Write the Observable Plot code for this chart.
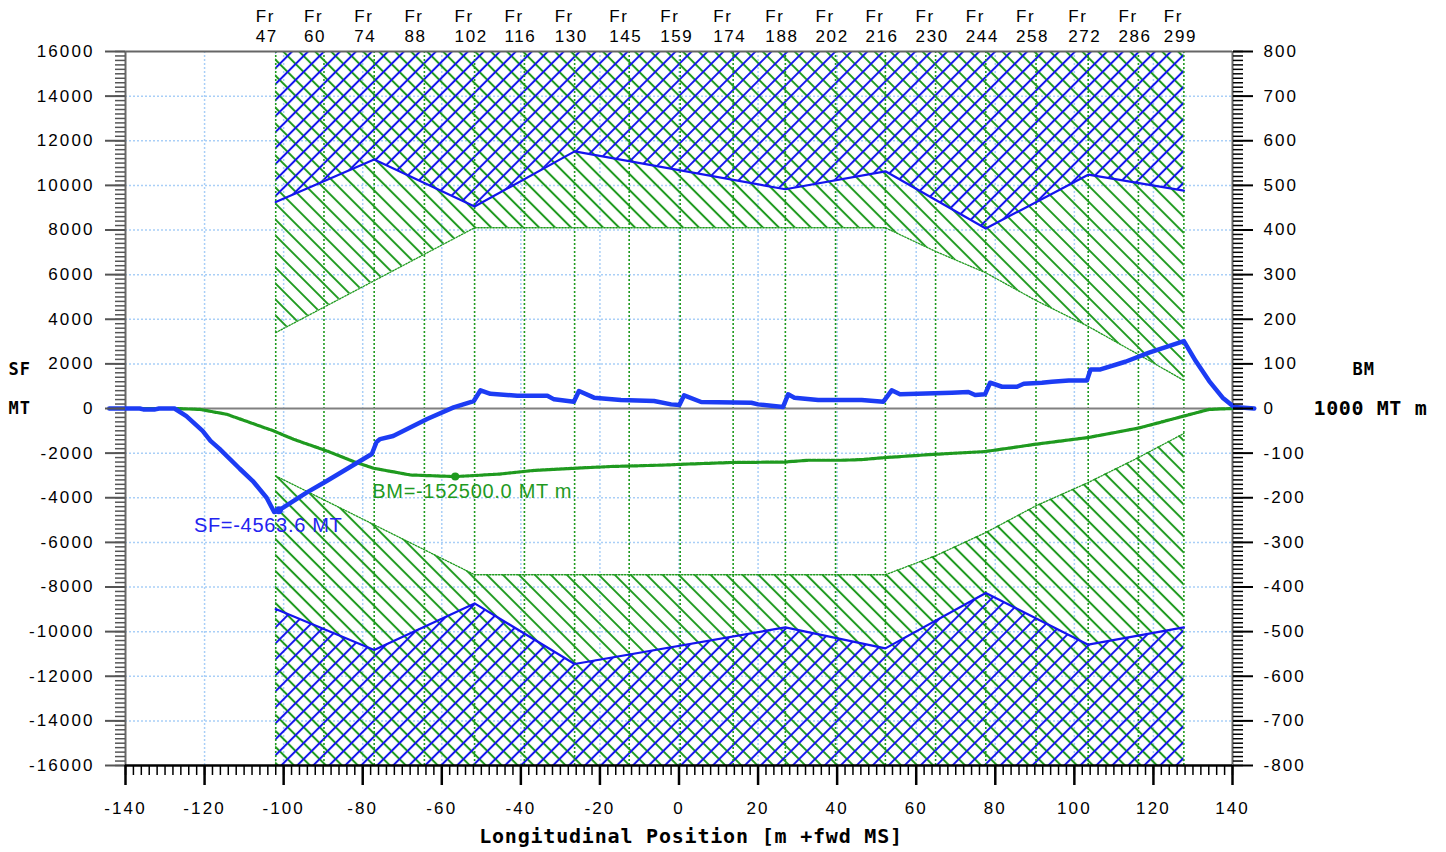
<!DOCTYPE html>
<html><head><meta charset="utf-8">
<script src="https://cdn.jsdelivr.net/npm/d3@7"></script>
<script src="https://cdn.jsdelivr.net/npm/@observablehq/plot@0.6"></script>
<style>
html,body{margin:0;padding:0;background:#fff;}
svg{display:block}
</style></head><body><div id="chart"></div>
<script>
// ---- data ----
const frames = [47, 60, 74, 88, 102, 116, 130, 145, 159, 174, 188, 202, 216, 230, 244, 258, 272, 286, 299];
const framePos = [-102.0, -89.8, -77.1, -64.4, -51.7, -39.1, -26.4, -12.6, 0.3, 13.7, 26.9, 39.6, 52.2, 64.9, 77.6, 90.3, 103.5, 116.2, 127.7];

// shear force limits (MT)
const sfLimX = [-102.0, -77.1, -51.7, -26.4, 26.9, 52.2, 77.6, 103.5, 127.7];
const sfMax  = [9255, 11155, 9050, 11525, 9825, 10630, 8065, 10480, 9765];
const sfMin  = [-8990, -10825, -8735, -11450, -9810, -10750, -8270, -10585, -9810];

// bending moment limits (1000 MT m)
const bmLimX = [-102.0, -51.7, 52.2, 64.9, 77.6, 90.3, 103.5, 116.2, 127.7];
const bmMax  = [170, 405, 405, 352, 304, 242, 184, 121, 63];
const bmMin  = [-151, -372.5, -372.5, -330, -278, -218, -166, -110, -56];

// shear force curve (m, MT)
const sfX = [-144.1, -136.4, -135.5, -132.5, -131.5, -127.6, -124.6, -120.5, -118.5, -116.2, -111.1, -107.8, -104.3, -102.4, -101.2, -94.2, -89.1, -77.7, -76.5, -75.6, -72.3, -63.7, -57.0, -51.9, -50.2, -47.7, -40.9, -33.3, -31.6, -26.6, -25.3, -21.5, -14.7, -6.3, -2.0, 0.1, 1.3, 5.6, 18.3, 20.0, 26.3, 27.6, 29.2, 35.2, 46.2, 51.7, 53.8, 55.9, 69.0, 73.2, 74.9, 77.4, 78.7, 81.7, 85.5, 87.2, 91.8, 94.3, 98.6, 103.2, 104.1, 106.6, 112.9, 118.9, 127.7, 130.7, 134.1, 137.5, 140.4, 145.5];
const sfY = [0, 0, -40, -40, 0, 0, -340, -1000, -1450, -1810, -2700, -3250, -4000, -4640, -4563.6, -3770, -3250, -2040, -1500, -1370, -1230, -470, 50, 335, 815, 660, 575, 575, 410, 305, 785, 485, 380, 335, 185, 155, 590, 290, 260, 185, 65, 635, 485, 380, 380, 305, 815, 635, 710, 740, 605, 635, 1155, 975, 975, 1110, 1155, 1200, 1260, 1260, 1750, 1750, 2095, 2500, 3020, 2125, 1230, 485, 65, 0];

// bending moment curve (m, 1000 MT m)
const bmX = [-144.1, -127.6, -121.2, -114.4, -102.6, -97.5, -89.1, -82.3, -77.2, -67.9, -56.6, -45.4, -37.0, -26.6, -17.3, -2.9, 0.5, 13.2, 26.7, 32.6, 41.1, 46.2, 52.1, 64.8, 77.4, 90.3, 103.5, 116.2, 127.7, 134.1, 140.0, 145.5];
const bmY = [0, 0, -2, -13, -50, -69, -95, -119, -134, -149, -152.5, -147, -139, -134, -130, -126.5, -125, -121, -120, -116, -116, -114.5, -110, -102.5, -96.5, -80, -65, -44, -17, -2, 0, 0];

const sfExtreme = {x: -101.2, v: -4563.6};
const bmExtreme = {x: -56.6, v: -152.5};

const xTicks = d3.range(-140, 141, 20);
const yTicks = d3.range(-16000, 16001, 2000);

// ---- derived tables ----
const K = 20; // 1000 MT m -> MT axis factor (800 <-> 16000)
const sfCurve = sfX.map((x, i) => ({x, y: sfY[i]}));
const bmCurve = bmX.map((x, i) => ({x, y: bmY[i] * K}));
const upSF = sfLimX.map((x, i) => ({x, lo: sfMax[i], hi: 16000}));
const dnSF = sfLimX.map((x, i) => ({x, lo: -16000, hi: sfMin[i]}));
const upBM = bmLimX.map((x, i) => ({x, lo: bmMax[i] * K, hi: 16000}));
const dnBM = bmLimX.map((x, i) => ({x, lo: -16000, hi: bmMin[i] * K}));
const frameLabels = frames.map((f, i) => ({x: framePos[i], t: `Fr\n${f}`}));

const green = "#1f9a1f";
const blue = "#1414ee";
const curveBlue = "#1c3cf4";
const gridBlue = "#a9cff7";
const mono = "DejaVu Sans Mono, monospace";
const monoText = {fontFamily: mono, fontWeight: "bold", fontSize: 17, textAnchor: "start"};

const svg = Plot.plot({
  width: 1446, height: 852,
  marginLeft: 125, marginRight: 214, marginTop: 51, marginBottom: 87,
  style: {fontFamily: "Liberation Sans, Arial, sans-serif", fontSize: "17px", background: "#fff", color: "#000"},
  x: {domain: [-140, 140]},
  y: {domain: [-16000, 16000]},
  marks: [
    Plot.ruleX(xTicks.filter(d => d > -140 && d < 140), {stroke: gridBlue, strokeWidth: 1.5, strokeDasharray: "2,2"}),
    Plot.ruleY(yTicks.filter(d => Math.abs(d) < 16000 && d !== 0), {stroke: gridBlue, strokeWidth: 1.5, strokeDasharray: "2,2"}),
    Plot.areaY(upBM, {x: "x", y1: "lo", y2: "hi", fill: "url(#hatchG)"}),
    Plot.areaY(dnBM, {x: "x", y1: "lo", y2: "hi", fill: "url(#hatchG)"}),
    Plot.areaY(upSF, {x: "x", y1: "lo", y2: "hi", fill: "url(#hatchB)"}),
    Plot.areaY(dnSF, {x: "x", y1: "lo", y2: "hi", fill: "url(#hatchB)"}),
    Plot.ruleX(framePos, {stroke: green, strokeWidth: 1.6, strokeDasharray: "2,2"}),
    Plot.line(upBM, {x: "x", y: "lo", stroke: green, strokeWidth: 1.3, strokeDasharray: "1.5,1.5"}),
    Plot.line(dnBM, {x: "x", y: "hi", stroke: green, strokeWidth: 1.3, strokeDasharray: "1.5,1.5"}),
    Plot.line(upSF, {x: "x", y: "lo", stroke: blue, strokeWidth: 2.2}),
    Plot.line(dnSF, {x: "x", y: "hi", stroke: blue, strokeWidth: 2.2}),
    Plot.ruleX([-140, 140], {stroke: "#666", strokeWidth: 2}),
    Plot.ruleY([16000], {stroke: "#666", strokeWidth: 2}),
    Plot.ruleY([0], {stroke: "#808080", strokeWidth: 2}),
    Plot.ruleY([-16000], {stroke: "#000", strokeWidth: 2.5}),
    Plot.line(bmCurve, {x: "x", y: "y", stroke: green, strokeWidth: 3.2, strokeDasharray: "3.5,1.2"}),
    Plot.line(sfCurve, {x: "x", y: "y", stroke: curveBlue, strokeWidth: 4.5, strokeLinejoin: "round"}),
    Plot.dot([sfExtreme], {x: "x", y: "v", r: 4, fill: curveBlue}),
    Plot.dot([bmExtreme], {x: "x", y: d => d.v * K, r: 4, fill: green}),
    Plot.text([sfExtreme], {x: "x", y: "v", text: d => `SF=${d.v.toFixed(1)} MT`, dx: -85, dy: 15, textAnchor: "start", fill: "#2323f0", fontSize: 20}),
    Plot.text([bmExtreme], {x: "x", y: d => d.v * K, text: d => `BM=${(d.v * 1000).toFixed(1)} MT m`, dx: -83, dy: 15, textAnchor: "start", fill: green, fontSize: 20}),
    Plot.text(frameLabels, {x: "x", text: "t", frameAnchor: "top", textAnchor: "start", lineAnchor: "top", dx: -20, dy: -44, fontSize: 17, lineHeight: 1.2}),
    Plot.text([{t: "SF", y: 1735}, {t: "MT", y: 0}], {...monoText, y: "y", text: "t", frameAnchor: "left", dx: -117}),
    Plot.text([{t: "BM", y: 1735}], {...monoText, y: "y", text: "t", frameAnchor: "right", dx: 120}),
    Plot.text([{t: "1000 MT m", y: 0}], {...monoText, fontSize: 20, y: "y", text: "t", frameAnchor: "right", dx: 81}),
    Plot.text([{t: "Longitudinal Position [m +fwd MS]"}], {text: "t", frameAnchor: "bottom", dx: 12, dy: 77, fontFamily: mono, fontWeight: "bold", fontSize: 20}),
    Plot.axisY({anchor: "left", ticks: yTicks, tickSize: 20, tickPadding: 11, tickFormat: d => String(d), label: null, stroke: "#555", strokeWidth: 2, fontSize: 17}),
    Plot.axisY({anchor: "left", ticks: d3.range(-16000, 16001, 200), tickSize: 10, tickFormat: () => "", label: null, stroke: "#555", strokeWidth: 1.5}),
    Plot.axisY({anchor: "right", ticks: yTicks, tickSize: 20, tickPadding: 11, tickFormat: d => String(d / K), label: null, stroke: "#000", strokeWidth: 2, fontSize: 17}),
    Plot.axisY({anchor: "right", ticks: d3.range(-16000, 16001, 200), tickSize: 10, tickFormat: () => "", label: null, stroke: "#000", strokeWidth: 1.5}),
    Plot.axisX({anchor: "bottom", ticks: xTicks, tickSize: 20, tickPadding: 16, tickFormat: d => String(d), label: null, stroke: "#000", strokeWidth: 2.5, fontSize: 17}),
    Plot.axisX({anchor: "bottom", ticks: d3.range(-140, 141, 2), tickSize: 10, tickFormat: () => "", label: null, stroke: "#000", strokeWidth: 1.5})
  ]
});

// hatch patterns
const defs = d3.select(svg).insert("defs", ":first-child");
function hatch(id, color, angle) {
  const s = 11.3;
  const p = defs.append("pattern").attr("id", id).attr("patternUnits", "userSpaceOnUse")
    .attr("width", s).attr("height", s).attr("patternTransform", `rotate(${angle})`);
  p.append("line").attr("x1", s / 2).attr("y1", -1).attr("x2", s / 2).attr("y2", s + 1)
    .attr("stroke", color).attr("stroke-width", 2);
}
hatch("hatchG", green, -45);
hatch("hatchB", blue, 45);

// letter spacing by text role
d3.select(svg).selectAll("text").each(function () {
  const t = this.textContent;
  let ls = null;
  if (/^-?\d+$/.test(t)) ls = "2.1px";
  else if (t.startsWith("Fr")) ls = "1.6px";
  else if (t.startsWith("Longitudinal")) ls = "0.8px";
  else if (t.startsWith("1000")) ls = "0.6px";
  else if (t === "SF" || t === "MT" || t === "BM") ls = "1px";
  else if (t.startsWith("SF=") || t.startsWith("BM=")) ls = "0.7px";
  if (ls) this.style.letterSpacing = ls;
});
document.getElementById("chart").appendChild(svg);
</script></body></html>
